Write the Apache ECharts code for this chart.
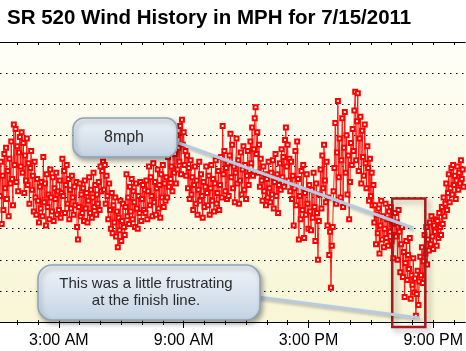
<!DOCTYPE html>
<html>
<head>
<meta charset="utf-8">
<script src="https://cdn.jsdelivr.net/npm/echarts@6/dist/echarts.min.js"></script>
<style>
  html, body { margin: 0; padding: 0; background: #fff; }
  #chart { width: 466px; height: 351px; }
</style>
</head>
<body>
<div id="chart"></div>
<script>
// wind speed (mph), one reading every 2.5 minutes starting 00:10 (one row per hour)
var startHour = 10 / 60;
var stepHours = 2.5 / 60;
var windMph = [
  8.1, 10.3, 6.3, 9.4, 7.2, 10.8, 8.6, 11.2, 7.9, 9.7, 6.8, 10.5, 8.9, 11.6, 9.2, 7.5, 12.7, 10.1, 12.4, 9.0, 11.3, 8.4, 10.9, 11.9,
  10.0, 12.2, 9.6, 11.5, 8.3, 10.7, 9.1, 11.8, 8.8, 10.2, 7.6, 9.9, 11.0, 8.5, 9.4, 7.1, 10.3, 8.0, 6.9, 9.2, 7.8, 6.4, 8.7, 7.3,
  9.0, 6.8, 10.6, 7.7, 8.9, 6.2, 9.5, 7.4, 8.2, 6.6, 9.8, 8.0, 7.1, 9.3, 6.5, 8.6, 7.9, 9.6, 6.9, 8.4, 7.2, 9.1, 6.7, 8.3,
  10.5, 8.1, 9.7, 7.0, 8.8, 10.1, 7.6, 9.2, 6.6, 8.5, 7.3, 9.4, 8.0, 6.9, 8.7, 7.5, 9.0, 6.1, 5.3, 7.4, 8.9, 6.8, 8.2, 7.0,
  8.6, 6.5, 9.1, 7.3, 8.3, 6.4, 7.8, 9.3, 7.0, 8.5, 6.7, 8.0, 9.6, 7.4, 8.8, 6.9, 8.2, 7.6, 9.0, 7.2, 10.0, 8.4, 9.7, 10.3,
  8.5, 10.1, 7.6, 9.4, 8.1, 6.6, 8.9, 7.2, 6.0, 8.3, 5.7, 7.5, 6.4, 8.0, 5.5, 7.1, 4.8, 6.7, 5.9, 7.8, 5.2, 6.5, 7.6, 6.1,
  5.6, 7.4, 9.5, 6.8, 8.0, 6.3, 8.7, 7.1, 9.2, 6.6, 8.4, 7.7, 6.1, 8.9, 7.3, 6.0, 8.1, 7.0, 9.0, 6.5, 7.9, 8.8, 7.2, 8.5,
  7.0, 9.1, 6.6, 8.4, 10.0, 7.5, 9.3, 8.1, 6.8, 10.2, 7.7, 9.0, 6.9, 8.6, 9.8, 7.3, 8.8, 6.7, 9.5, 8.0, 10.1, 7.4, 8.9, 7.8,
  9.3, 8.0, 10.6, 8.7, 11.1, 9.2, 10.0, 8.4, 11.5, 9.6, 10.8, 8.9, 12.0, 9.8, 11.2, 10.3, 12.6, 9.5, 13.0, 11.4, 12.2, 10.1, 11.0, 9.4,
  10.7, 8.6, 9.9, 7.9, 10.4, 8.2, 9.3, 7.2, 8.8, 10.0, 7.6, 9.1, 6.9, 8.5, 10.3, 7.8, 9.5, 8.1, 6.7, 9.0, 7.4, 8.7, 10.0, 8.3,
  7.5, 9.4, 6.9, 8.6, 10.1, 7.8, 9.2, 7.1, 8.9, 10.4, 7.6, 8.3, 9.7, 7.2, 8.8, 10.6, 8.0, 12.6, 9.5, 11.0, 8.4, 9.9, 7.9, 10.2,
  8.1, 10.7, 12.1, 9.3, 11.4, 8.6, 10.0, 7.7, 9.6, 11.8, 8.9, 10.4, 7.6, 9.1, 10.9, 8.2, 9.8, 11.3, 8.5, 10.1, 7.9, 9.4, 11.0, 8.8,
  9.7, 11.6, 10.2, 12.5, 9.4, 11.1, 13.1, 13.8, 10.8, 12.2, 9.6, 11.4, 8.7, 10.5, 9.1, 7.8, 10.0, 8.4, 9.5, 7.5, 9.2, 8.0, 10.3, 8.6,
  7.7, 9.6, 8.2, 10.4, 7.3, 9.0, 10.8, 8.1, 9.5, 7.0, 8.8, 10.2, 8.5, 11.1, 9.3, 10.6, 8.7, 11.7, 12.5, 10.0, 11.4, 9.1, 10.5, 8.4,
  10.3, 7.9, 9.4, 6.2, 8.6, 11.0, 7.5, 11.6, 9.2, 5.3, 8.1, 6.6, 9.7, 7.2, 10.1, 5.4, 8.3, 6.9, 9.5, 7.6, 6.0, 8.8, 7.1, 5.9,
  8.5, 6.7, 9.6, 7.4, 5.2, 8.9, 7.0, 4.0, 6.5, 8.2, 9.8, 7.3, 10.7, 8.6, 11.4, 9.1, 7.7, 10.3, 6.2, 8.0, 4.3, 5.8, 2.2, 4.9,
  6.1, 8.4, 9.9, 12.8, 7.6, 10.9, 14.2, 9.3, 11.8, 8.0, 10.4, 13.1, 7.4, 11.2, 13.5, 9.6, 12.0, 8.2, 10.7, 6.6, 9.0, 11.5, 10.1, 12.4,
  11.0, 13.6, 14.8, 10.4, 12.9, 14.7, 9.7, 11.8, 13.2, 8.9, 12.3, 10.6, 9.4, 12.7, 10.2, 8.6, 11.3, 9.9, 7.8, 10.5, 8.1, 9.6, 7.5, 8.8,
  6.4, 7.5, 5.0, 6.9, 5.7, 7.3, 4.4, 6.2, 7.8, 5.3, 6.8, 4.8, 6.0, 7.6, 5.4, 6.6, 4.9, 7.1, 5.8, 7.4, 5.2, 6.3, 4.1, 5.6,
  7.0, 5.5, 6.4, 4.0, 7.2, 5.8, 3.2, 5.0, 6.1, 2.9, 4.5, 1.6, 3.8, 5.2, 2.7, 4.3, 3.4, 5.4, 1.5, 3.0, 2.4, 4.1, 1.9, 2.8,
  0.4, 1.8, 3.3, 1.1, 2.6, 4.2, 3.0, 4.8, 2.5, 3.9, 5.6, 4.4, 6.1, 3.7, 5.3, 4.6, 6.4, 5.0, 6.8, 5.5, 4.7, 6.2, 5.8, 6.6,
  4.9, 6.5, 5.4, 7.0, 6.1, 5.6, 7.4, 6.3, 8.0, 6.8, 7.6, 8.9, 7.2, 8.3, 9.5, 7.7, 8.6, 9.9, 8.2, 10.1, 8.8, 9.4, 7.9, 9.1,
  10.0, 8.5, 9.6, 8.9, 10.4, 9.2, 9.8, 8.7
];
var hourTicks = [1, 2, 3, 4, 5, 6, 7, 8, 9, 10, 11, 12, 13, 14, 15, 16, 17, 18, 19, 20, 21, 22];
var labelHours = [3, 9, 15, 21];
// "finish" window highlighted by the box: [start hour, end hour], [low, high] mph
var finishHours = [19.03, 20.62];
var finishMph = [-0.32, 7.94];

var xMin = 0.168, xMax = 22.536;

function hourLabel(h) {
  var hh = h % 12 === 0 ? 12 : h % 12;
  return hh + ":00 " + (h < 12 ? "AM" : "PM");
}

var seriesData = windMph.map(function (v, i) {
  return [startHour + i * stepHours, v];
});

var myChart = echarts.init(document.getElementById("chart"));

var calloutFill = {
  type: "linear", x: 0, y: 0, x2: 0, y2: 1,
  colorStops: [
    { offset: 0, color: "#eef3f8" },
    { offset: 0.5, color: "#dbe5ef" },
    { offset: 1, color: "#c3d2e1" }
  ]
};

var option = {
  animation: false,
  title: {
    text: "SR 520 Wind History in MPH for 7/15/2011",
    left: 2,
    top: 3,
    textStyle: {
      fontFamily: "Liberation Sans, Arial, sans-serif",
      fontWeight: "bold",
      fontSize: 20.5,
      color: "#000"
    }
  },
  grid: {
    left: 0,
    right: 0,
    top: 42,
    bottom: 29,
    show: true,
    borderWidth: 0,
    backgroundColor: {
      type: "linear", x: 0, y: 0, x2: 0, y2: 1,
      colorStops: [
        { offset: 0, color: "#fefef6" },
        { offset: 1, color: "#f8f6d6" }
      ]
    }
  },
  xAxis: [
    {
      type: "value",
      position: "bottom",
      min: xMin,
      max: xMax,
      axisLine: { lineStyle: { color: "#000", width: 1 } },
      axisTick: { customValues: hourTicks, length: 3, lineStyle: { color: "#000" } },
      axisLabel: {
        customValues: labelHours,
        formatter: hourLabel,
        fontFamily: "Liberation Sans, Arial, sans-serif",
        fontSize: 16,
        color: "#000",
        margin: 11
      },
      splitLine: { show: false }
    },
    {
      type: "value",
      position: "bottom",
      min: xMin,
      max: xMax,
      axisLine: { show: false },
      axisTick: { customValues: labelHours, length: 6, lineStyle: { color: "#000" } },
      axisLabel: { show: false },
      splitLine: { show: false }
    },
    {
      type: "value",
      position: "bottom",
      min: xMin,
      max: xMax,
      axisLine: { show: false },
      axisTick: { customValues: hourTicks, inside: true, length: 2, lineStyle: { color: "#000" } },
      axisLabel: { show: false },
      splitLine: { show: false }
    },
    {
      type: "value",
      position: "top",
      min: xMin,
      max: xMax,
      axisLine: { lineStyle: { color: "#000", width: 1 } },
      axisTick: { customValues: hourTicks, inside: true, length: 3, lineStyle: { color: "#000" } },
      axisLabel: { show: false },
      splitLine: { show: false }
    }
  ],
  yAxis: {
    type: "value",
    min: 0,
    max: 18,
    interval: 2,
    axisLine: { show: false },
    axisTick: { show: false },
    axisLabel: { show: false },
    splitLine: {
      show: true,
      lineStyle: { color: "#000", width: 1, type: [1.5, 4.5] }
    }
  },
  series: [
    {
      type: "line",
      xAxisIndex: 0,
      data: seriesData,
      symbol: "emptyRect",
      symbolSize: 4,
      showAllSymbol: true,
      lineStyle: { color: "#ff0000", width: 1, opacity: 0.85 },
      itemStyle: { color: "#ff0000", borderWidth: 1 },
      z: 3
    }
  ],
  graphic: [
    {
      type: "line",
      z: 50,
      shape: { x1: 176, y1: 142, x2: 413, y2: 228 },
      style: {
        stroke: "#b7cadf", lineWidth: 3,
        shadowBlur: 3, shadowColor: "rgba(0,0,0,0.25)", shadowOffsetX: 1, shadowOffsetY: 2
      }
    },
    {
      type: "line",
      z: 50,
      shape: { x1: 258, y1: 297, x2: 420, y2: 318 },
      style: {
        stroke: "#b7cadf", lineWidth: 3,
        shadowBlur: 3, shadowColor: "rgba(0,0,0,0.25)", shadowOffsetX: 1, shadowOffsetY: 2
      }
    },
    {
      type: "rect",
      z: 60,
      shape: { x: 73, y: 118, width: 104, height: 39, r: 11 },
      style: {
        fill: calloutFill, stroke: "#8ea3b9", lineWidth: 1.5,
        shadowBlur: 5, shadowColor: "rgba(0,0,0,0.35)", shadowOffsetX: 2, shadowOffsetY: 3
      }
    },
    {
      type: "text",
      z: 61,
      style: {
        x: 124, y: 138, text: "8mph", align: "center", verticalAlign: "middle",
        font: "16px Liberation Sans, Arial, sans-serif", fill: "#2b2b2b"
      }
    },
    {
      type: "rect",
      z: 60,
      shape: { x: 38, y: 265, width: 222, height: 55, r: 14 },
      style: {
        fill: calloutFill, stroke: "#8ea3b9", lineWidth: 1.5,
        shadowBlur: 5, shadowColor: "rgba(0,0,0,0.35)", shadowOffsetX: 2, shadowOffsetY: 3
      }
    },
    {
      type: "text",
      z: 61,
      style: {
        x: 146, y: 292, text: "This was a little frustrating\nat the finish line.",
        align: "center", verticalAlign: "middle", lineHeight: 17,
        font: "15px Liberation Sans, Arial, sans-serif", fill: "#2b2b2b"
      }
    }
  ]
};

myChart.setOption(option);

// highlight box around the finish window, placed through the axes
var p1 = myChart.convertToPixel({ xAxisIndex: 0, yAxisIndex: 0 }, [finishHours[0], finishMph[1]]);
var p2 = myChart.convertToPixel({ xAxisIndex: 0, yAxisIndex: 0 }, [finishHours[1], finishMph[0]]);
option.graphic.push({
  type: "rect",
  z: 40,
  shape: { x: p1[0], y: p1[1], width: p2[0] - p1[0], height: p2[1] - p1[1] },
  style: {
    fill: "rgba(0,0,0,0)", stroke: "#a61a1a", lineWidth: 2.5,
    shadowBlur: 6, shadowColor: "rgba(0,0,0,0.35)", shadowOffsetX: 3, shadowOffsetY: 3
  }
});
myChart.setOption({ graphic: option.graphic });
</script>
</body>
</html>
